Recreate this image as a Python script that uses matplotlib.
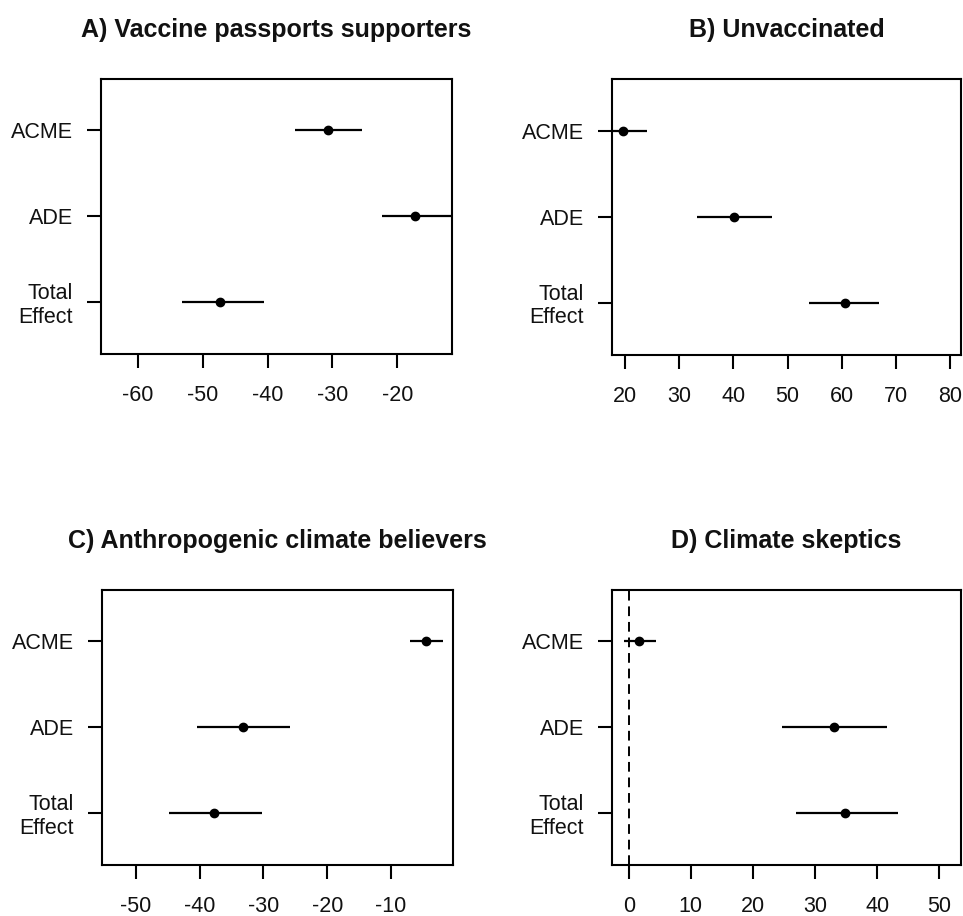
import matplotlib
matplotlib.use("Agg")
import matplotlib.pyplot as plt

plt.rcParams['font.family'] = ['Liberation Sans', 'DejaVu Sans']

effects = ["ACME", "ADE", "Total\nEffect"]
ypos = [3, 2, 1]

titles = ["A) Vaccine passports supporters", "B) Unvaccinated",
          "C) Anthropogenic climate believers", "D) Climate skeptics"]

A_est = [-30.7, -17.2, -47.35]
A_lo = [-35.8, -22.4, -53.2]
A_hi = [-25.45, -11.5, -40.5]

B_est = [19.7, 40.1, 60.6]
B_lo = [15.3, 33.2, 54.0]
B_hi = [24.1, 47.2, 66.8]

C_est = [-4.5, -33.15, -37.75]
C_lo = [-7.1, -40.4, -44.8]
C_hi = [-1.85, -25.8, -30.2]

D_est = [1.6, 33.1, 34.8]
D_lo = [-0.7, 24.6, 27.0]
D_hi = [4.35, 41.6, 43.4]

A_ticks = [-60, -50, -40, -30, -20]
B_ticks = [20, 30, 40, 50, 60, 70, 80]
C_ticks = [-50, -40, -30, -20, -10]
D_ticks = [0, 10, 20, 30, 40, 50]

panels = [
    (A_est, A_lo, A_hi, A_ticks, (-65.7, -11.5), False),
    (B_est, B_lo, B_hi, B_ticks, (17.6, 82.0), False),
    (C_est, C_lo, C_hi, C_ticks, (-55.3, -0.35), False),
    (D_est, D_lo, D_hi, D_ticks, (-2.74, 53.5), True),
]

W, H = 963, 916
fig = plt.figure(figsize=(W / 100, H / 100), dpi=100)

# axes boxes in pixels: left, right, top, bottom
boxes = [
    (101, 452.3, 79, 354.3),
    (612, 961, 79, 355),
    (102, 452.7, 590, 865.3),
    (611.7, 961, 590, 865.3),
]

txt_color = "#111111"
for (est, lo, hi, ticks, xlim, zero), (l, r, t, b), title in zip(panels, boxes, titles):
    ax = fig.add_axes([l / W, 1 - b / H, (r - l) / W, (b - t) / H])
    if zero:
        ax.axvline(0, color="black", lw=1.4, ls=(0, (5, 3)), zorder=1)
    for e, lo_, hi_, y in zip(est, lo, hi, ypos):
        ax.plot([lo_, hi_], [y, y], color="black", lw=1.6, solid_capstyle="butt", zorder=2)
    ax.plot(est, ypos, "o", color="black", ms=6, zorder=3)
    ax.set_xlim(*xlim)
    ax.set_ylim(0.39, 3.6)
    ax.set_xticks(ticks)
    ax.set_xticklabels([str(v) for v in ticks])
    ax.set_yticks(ypos)
    ax.set_yticklabels(effects, ha="right", multialignment="right", linespacing=1.15)
    ax.tick_params(axis="x", length=10, width=1.5, pad=12, labelsize=15.5, labelcolor=txt_color)
    ax.tick_params(axis="y", length=10, width=1.5, pad=10, labelsize=15.5, labelcolor=txt_color)
    for s in ax.spines.values():
        s.set_linewidth(1.5)
        s.set_color("black")
    ax.set_title(title, fontsize=18, fontweight="bold", pad=30, color=txt_color)

fig.savefig("out.png", dpi=100)
